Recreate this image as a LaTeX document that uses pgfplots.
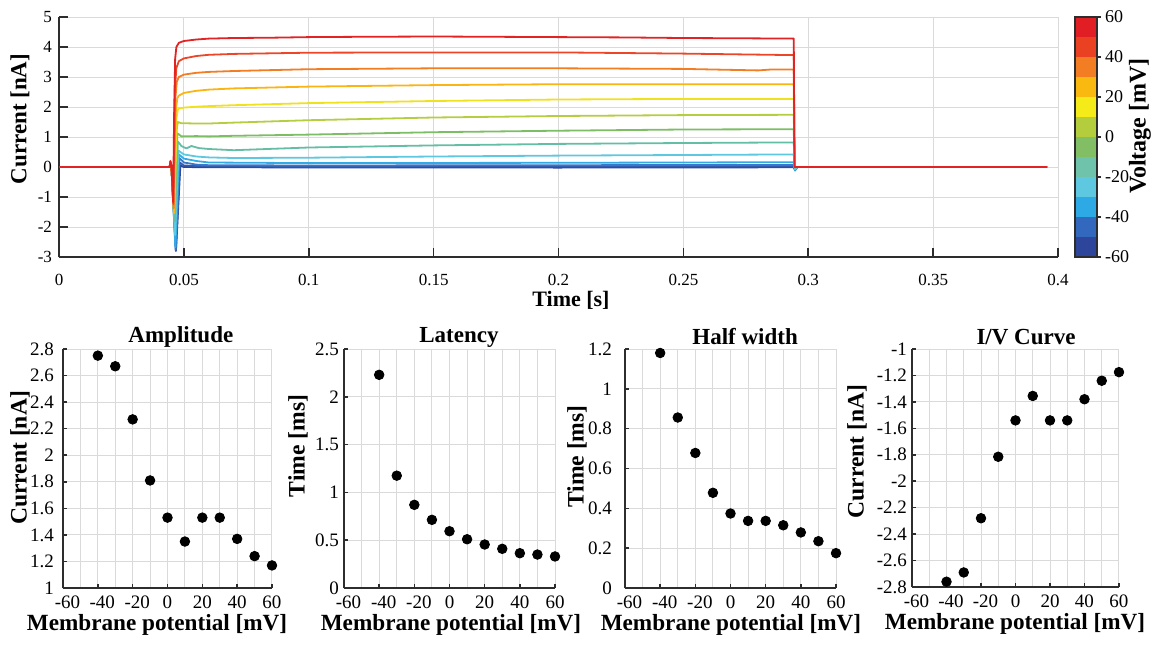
\documentclass[border=0pt]{standalone}
\usepackage{fontspec}
\setmainfont{Liberation Serif}
\usepackage{pgfplots}
\pgfplotsset{compat=1.18}
\definecolor{gridc}{RGB}{218,218,218}
\definecolor{axc}{RGB}{45,45,45}
\definecolor{c12}{RGB}{225,35,35}
\definecolor{c11}{RGB}{235,70,40}
\definecolor{c10}{RGB}{242,125,35}
\definecolor{c9}{RGB}{250,180,20}
\definecolor{c8}{RGB}{240,225,30}
\definecolor{c7}{RGB}{180,205,65}
\definecolor{c6}{RGB}{125,190,100}
\definecolor{c5}{RGB}{100,190,165}
\definecolor{c4}{RGB}{95,200,225}
\definecolor{c3}{RGB}{50,170,230}
\definecolor{c2}{RGB}{55,120,200}
\definecolor{c1}{RGB}{50,90,175}
\definecolor{c0}{RGB}{45,70,155}
\definecolor{b1}{RGB}{45,70,155}
\definecolor{b2}{RGB}{50,105,190}
\definecolor{b3}{RGB}{45,170,230}
\definecolor{b4}{RGB}{95,200,225}
\definecolor{b5}{RGB}{110,195,170}
\definecolor{b6}{RGB}{130,190,100}
\definecolor{b7}{RGB}{180,205,60}
\definecolor{b8}{RGB}{245,235,25}
\definecolor{b9}{RGB}{250,185,15}
\definecolor{b10}{RGB}{242,125,35}
\definecolor{b11}{RGB}{235,65,35}
\definecolor{b12}{RGB}{225,30,35}
\newcommand{\negshift}[1]{\hspace*{4.5pt}#1}
\pgfplotsset{
  base/.style={
    scale only axis,
    /pgf/number format/assume math mode=true,
    axis x line*=bottom, axis y line*=left,
    x axis line style={-,axc,line width=0.9pt},
    y axis line style={-,axc,line width=0.9pt},
    xtick pos=bottom, ytick pos=left,
    grid=major, grid style={gridc,line width=0.5pt},
    tick align=inside,
    major tick style={axc,line width=0.8pt},
  },
  bot/.style={
    base,
    width=104.5pt, height=119.5pt,
    xmin=-60, xmax=60,
    xtick={-60,-40,-20,0,20,40,60},
    xticklabels={\negshift{-60},\negshift{-40},\negshift{-20},0,20,40,60},
    minor xtick={-50,-30,-10,10,30,50},
    minor grid style={gridc,line width=0.5pt},
    xminorgrids=true,
    minor tick length=0pt,
    major tick length=2pt,
    tick label style={font=\fontsize{9.5}{10}\selectfont},
    xticklabel style={yshift=-0.5pt},
    title style={font=\bfseries\fontsize{11.5}{12}\selectfont, anchor=center, yshift=0pt},
    xlabel style={font=\bfseries\fontsize{11.6}{13}\selectfont, anchor=center},
    ylabel style={font=\bfseries\fontsize{11.8}{13}\selectfont, anchor=center},
    xlabel={Membrane potential [mV]},
  },
  dots/.style={only marks, mark=*, mark size=2.4pt, black, mark options={fill=black, draw=black}},
}
\begin{document}
\begin{tikzpicture}
\path[use as bounding box] (0,0) rectangle (575.5pt,322pt);
% ---------------- top traces ----------------
\begin{axis}[base,
  at={(29.5pt,193.5pt)}, anchor=south west,
  width=499.5pt, height=120pt,
  xmin=0, xmax=0.4, ymin=-3, ymax=5,
  xtick={0,0.05,0.1,0.15,0.2,0.25,0.3,0.35,0.4},
  xticklabels={0,0.05,0.1,0.15,0.2,0.25,0.3,0.35,0.4},
  ytick={-3,-2,-1,0,1,2,3,4,5},
  major tick length=4.5pt,
  tick label style={font=\fontsize{8.5}{9}\selectfont},
  xticklabel style={yshift=-5pt},
  xlabel={Time [s]}, ylabel={Current [nA]},
  xlabel style={font=\bfseries\fontsize{11}{12}\selectfont, at={(axis description cs:0.5125,-0.18)}, anchor=center},
  ylabel style={font=\bfseries\fontsize{11.5}{12}\selectfont, at={(axis description cs:-0.039,0.575)}, anchor=center},
  every axis plot/.append style={line width=0.9pt, line join=round},
]
\addplot[c0] coordinates {(0,0) (0.0443,0) (0.0446,0.1) (0.0450,0.02) (0.0469,-2.70) (0.0486,0.05) (0.050,0.0) (0.060,-0.01) (0.20,-0.02) (0.2942,-0.01) (0.2947,-0.08) (0.2956,0) (0.3956,0)};
\addplot[c1] coordinates {(0,0) (0.0443,0) (0.0446,0.1) (0.0450,0.02) (0.0468,-2.80) (0.0484,0.15) (0.050,0.05) (0.060,0.02) (0.10,0.01) (0.20,0.02) (0.2942,0.02) (0.2947,-0.10) (0.2956,0) (0.3956,0)};
\addplot[c2] coordinates {(0,0) (0.0443,0) (0.0446,0.12) (0.0450,0.02) (0.0467,-2.75) (0.0482,0.30) (0.050,0.15) (0.055,0.08) (0.060,0.06) (0.10,0.05) (0.20,0.06) (0.2942,0.07) (0.2947,-0.12) (0.2956,0) (0.3956,0)};
\addplot[c3] coordinates {(0,0) (0.0443,0) (0.0446,0.12) (0.0450,0.02) (0.0466,-2.67) (0.0480,0.42) (0.050,0.28) (0.055,0.20) (0.060,0.15) (0.10,0.13) (0.20,0.14) (0.2942,0.16) (0.2947,-0.10) (0.2955,0) (0.3956,0)};
\addplot[c4] coordinates {(0,0) (0.0443,0) (0.0446,0.14) (0.0450,0.03) (0.0465,-2.27) (0.0478,0.55) (0.050,0.42) (0.055,0.35) (0.060,0.32) (0.070,0.30) (0.10,0.31) (0.15,0.35) (0.20,0.38) (0.25,0.40) (0.2942,0.42) (0.2947,-0.08) (0.2955,0) (0.3956,0)};
\addplot[c5] coordinates {(0,0) (0.0443,0) (0.0446,0.15) (0.0450,0.03) (0.0464,-1.81) (0.0476,0.85) (0.049,0.70) (0.051,0.62) (0.053,0.70) (0.056,0.63) (0.060,0.60) (0.070,0.56) (0.10,0.65) (0.15,0.72) (0.20,0.77) (0.25,0.80) (0.2942,0.82) (0.2946,-0.03) (0.2955,0) (0.3956,0)};
\addplot[c6] coordinates {(0,0) (0.0443,0) (0.0446,0.15) (0.0450,0.03) (0.0463,-1.53) (0.0474,1.12) (0.0478,1.10) (0.049,1.02) (0.055,1.03) (0.060,1.02) (0.070,1.04) (0.10,1.08) (0.15,1.16) (0.20,1.21) (0.25,1.25) (0.2942,1.26) (0.2945,0) (0.3956,0)};
\addplot[c7] coordinates {(0,0) (0.0443,0) (0.0446,0.16) (0.0450,0.03) (0.0462,-1.35) (0.0472,1.30) (0.0476,1.50) (0.049,1.46) (0.055,1.45) (0.060,1.45) (0.070,1.48) (0.10,1.56) (0.15,1.65) (0.20,1.70) (0.25,1.73) (0.2942,1.74) (0.2945,0) (0.3956,0)};
\addplot[c8] coordinates {(0,0) (0.0443,0) (0.0446,0.17) (0.0450,0.04) (0.0461,-1.53) (0.0470,1.60) (0.0476,1.92) (0.048,1.95) (0.050,1.98) (0.055,2.01) (0.060,2.03) (0.070,2.06) (0.10,2.13) (0.15,2.20) (0.20,2.25) (0.25,2.27) (0.2942,2.27) (0.2945,0) (0.3956,0)};
\addplot[c9] coordinates {(0,0) (0.0443,0) (0.0446,0.17) (0.0450,0.04) (0.0460,-1.53) (0.0468,1.90) (0.0474,2.30) (0.048,2.38) (0.050,2.47) (0.055,2.54) (0.060,2.58) (0.070,2.62) (0.10,2.68) (0.15,2.73) (0.20,2.76) (0.25,2.76) (0.2942,2.76) (0.2945,0) (0.3956,0)};
\addplot[c10] coordinates {(0,0) (0.0443,0) (0.0446,0.18) (0.0450,0.04) (0.0459,-1.37) (0.0466,2.30) (0.0472,2.85) (0.048,3.00) (0.050,3.08) (0.055,3.14) (0.060,3.17) (0.070,3.20) (0.10,3.26) (0.15,3.29) (0.20,3.29) (0.25,3.27) (0.28,3.22) (0.285,3.25) (0.2942,3.25) (0.2945,0) (0.3956,0)};
\addplot[c11] coordinates {(0,0) (0.0443,0) (0.0446,0.18) (0.0450,0.04) (0.0458,-1.24) (0.0464,2.60) (0.0470,3.30) (0.048,3.53) (0.050,3.62) (0.055,3.70) (0.060,3.74) (0.070,3.77) (0.10,3.81) (0.15,3.82) (0.20,3.82) (0.25,3.78) (0.2942,3.73) (0.2945,0) (0.3956,0)};
\addplot[c12] coordinates {(0,0) (0.0443,0) (0.0446,0.2) (0.0450,0.05) (0.0457,-1.17) (0.0461,1.8) (0.0465,3.6) (0.0470,4.0) (0.048,4.14) (0.050,4.20) (0.055,4.25) (0.060,4.28) (0.070,4.30) (0.085,4.31) (0.10,4.33) (0.12,4.34) (0.15,4.35) (0.175,4.34) (0.20,4.33) (0.225,4.32) (0.25,4.30) (0.275,4.29) (0.2942,4.28) (0.2945,0) (0.3956,0)};
\end{axis}
% ---------------- colorbar ----------------
\begin{axis}[
  scale only axis,
  /pgf/number format/assume math mode=true,
  at={(537.5pt,193.5pt)}, anchor=south west,
  width=11pt, height=120pt,
  xmin=0, xmax=1, ymin=-60, ymax=60,
  xtick=\empty,
  ytick={-60,-40,-20,0,20,40,60},
  ytick pos=right, yticklabel pos=right,
  tick align=outside, major tick length=2pt,
  major tick style={axc,line width=0.6pt},
  axis line style={axc,line width=0.6pt},
  tick label style={font=\fontsize{9}{10}\selectfont},
  yticklabel style={xshift=-1.5pt},
  ylabel={Voltage [mV]},
  ylabel style={font=\bfseries\fontsize{12}{13}\selectfont, at={(axis description cs:2.95,0.546)}, anchor=center},
  axis on top,
]
\addplot[fill=b1,draw=none] coordinates {(0,-60) (1,-60) (1,-50) (0,-50) (0,-60)};
\addplot[fill=b2,draw=none] coordinates {(0,-50) (1,-50) (1,-40) (0,-40) (0,-50)};
\addplot[fill=b3,draw=none] coordinates {(0,-40) (1,-40) (1,-30) (0,-30) (0,-40)};
\addplot[fill=b4,draw=none] coordinates {(0,-30) (1,-30) (1,-20) (0,-20) (0,-30)};
\addplot[fill=b5,draw=none] coordinates {(0,-20) (1,-20) (1,-10) (0,-10) (0,-20)};
\addplot[fill=b6,draw=none] coordinates {(0,-10) (1,-10) (1,0) (0,0) (0,-10)};
\addplot[fill=b7,draw=none] coordinates {(0,0) (1,0) (1,10) (0,10) (0,0)};
\addplot[fill=b8,draw=none] coordinates {(0,10) (1,10) (1,20) (0,20) (0,10)};
\addplot[fill=b9,draw=none] coordinates {(0,20) (1,20) (1,30) (0,30) (0,20)};
\addplot[fill=b10,draw=none] coordinates {(0,30) (1,30) (1,40) (0,40) (0,30)};
\addplot[fill=b11,draw=none] coordinates {(0,40) (1,40) (1,50) (0,50) (0,40)};
\addplot[fill=b12,draw=none] coordinates {(0,50) (1,50) (1,60) (0,60) (0,50)};
\end{axis}
% ---------------- Amplitude ----------------
\begin{axis}[bot,
  at={(31.5pt,28pt)}, anchor=south west,
  ymin=1, ymax=2.8,
  ytick={1,1.2,1.4,1.6,1.8,2,2.2,2.4,2.6,2.8},
  yticklabel style={xshift=-1pt},
  title={Amplitude},
  title style={at={(axis description cs:0.564,1.0)}},
  xlabel style={at={(axis description cs:0.45,-0.155)}},
  ylabel={Current [nA]},
  ylabel style={at={(axis description cs:-0.206,0.544)}},
]
\addplot[dots] coordinates {(-40,2.75) (-30,2.67) (-20,2.27) (-10,1.81) (0,1.53) (10,1.35) (20,1.53) (30,1.53) (40,1.37) (50,1.24) (60,1.17)};
\end{axis}
% ---------------- Latency ----------------
\begin{axis}[bot,
  at={(172pt,28pt)}, anchor=south west, width=105.5pt,
  ymin=0, ymax=2.5,
  ytick={0,0.5,1,1.5,2,2.5},
  yticklabel style={xshift=1pt},
  title={Latency},
  title style={at={(axis description cs:0.545,1.0)}},
  xlabel style={at={(axis description cs:0.507,-0.155)}},
  ylabel={Time [ms]},
  ylabel style={at={(axis description cs:-0.218,0.594)}},
]
\addplot[dots] coordinates {(-40,2.23) (-30,1.175) (-20,0.87) (-10,0.713) (0,0.594) (10,0.51) (20,0.455) (30,0.41) (40,0.364) (50,0.35) (60,0.33)};
\end{axis}
% ---------------- Half width ----------------
\begin{axis}[bot,
  at={(312.5pt,28pt)}, anchor=south west, width=105.5pt,
  ymin=0, ymax=1.2,
  ytick={0,0.2,0.4,0.6,0.8,1,1.2},
  yticklabel style={xshift=-3pt},
  title={Half width},
  title style={at={(axis description cs:0.569,1.0)}},
  xlabel style={at={(axis description cs:0.502,-0.155)}},
  ylabel={Time [ms]},
  ylabel style={at={(axis description cs:-0.227,0.55)}},
]
\addplot[dots] coordinates {(-40,1.18) (-30,0.856) (-20,0.678) (-10,0.478) (0,0.374) (10,0.337) (20,0.337) (30,0.315) (40,0.279) (50,0.235) (60,0.175)};
\end{axis}
% ---------------- I/V Curve ----------------
\begin{axis}[bot,
  at={(456pt,28.5pt)}, anchor=south west, width=103.5pt, height=119pt,
  ymin=-2.8, ymax=-1,
  ytick={-2.8,-2.6,-2.4,-2.2,-2,-1.8,-1.6,-1.4,-1.2,-1},
  yticklabel style={xshift=1pt},
  title={I/V Curve},
  title style={at={(axis description cs:0.551,1.0)}},
  xlabel style={at={(axis description cs:0.498,-0.155)}},
  ylabel={Current [nA]},
  ylabel style={at={(axis description cs:-0.266,0.57)}},
]
\addplot[dots] coordinates {(-40,-2.76) (-30,-2.69) (-20,-2.28) (-10,-1.815) (0,-1.54) (10,-1.355) (20,-1.54) (30,-1.54) (40,-1.38) (50,-1.24) (60,-1.175)};
\end{axis}
\end{tikzpicture}
\end{document}
